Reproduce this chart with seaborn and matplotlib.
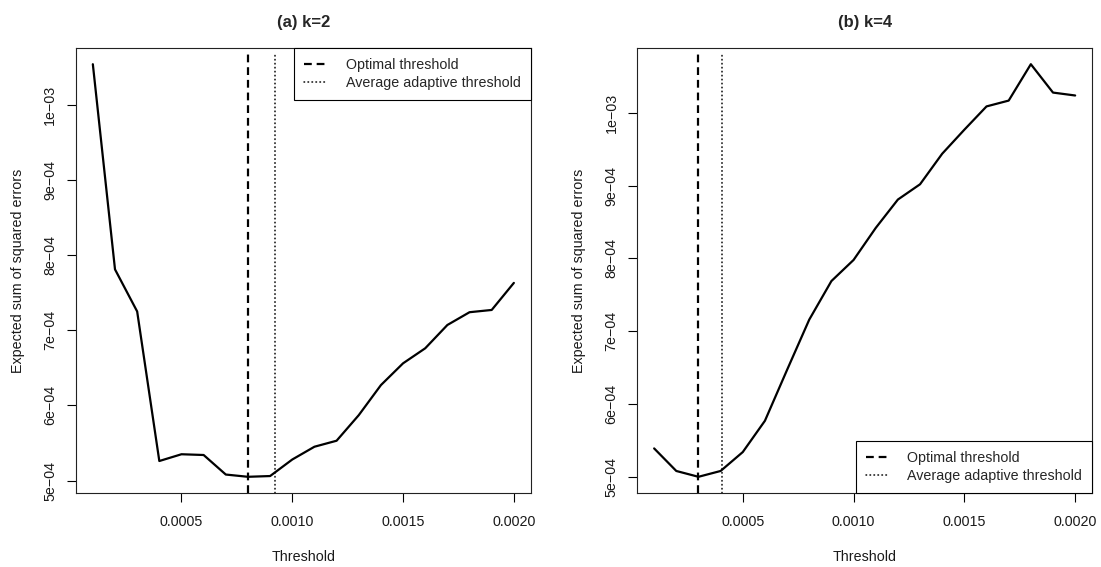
import numpy as np
import pandas as pd
import matplotlib
matplotlib.use("Agg")
import matplotlib.pyplot as plt
import seaborn as sns
from matplotlib.ticker import FuncFormatter, FixedLocator

# valores
limiares = [0.0001, 0.0002, 0.0003, 0.0004, 0.0005, 0.0006, 0.0007, 0.0008, 0.0009, 0.0010,
            0.0011, 0.0012, 0.0013, 0.0014, 0.0015, 0.0016, 0.0017, 0.0018, 0.0019, 0.0020]
sse_k2 = [1.054e-3, 7.81e-4, 7.25e-4, 5.26e-4, 5.35e-4, 5.34e-4, 5.08e-4, 5.05e-4, 5.06e-4, 5.28e-4,
          5.45e-4, 5.53e-4, 5.87e-4, 6.27e-4, 6.56e-4, 6.76e-4, 7.07e-4, 7.24e-4, 7.27e-4, 7.63e-4]
sse_k4 = [5.39e-4, 5.08e-4, 5.00e-4, 5.08e-4, 5.34e-4, 5.77e-4, 6.47e-4, 7.16e-4, 7.69e-4, 7.98e-4,
          8.42e-4, 8.81e-4, 9.02e-4, 9.44e-4, 9.77e-4, 1.009e-3, 1.017e-3, 1.067e-3, 1.028e-3, 1.024e-3]

titulos = ["(a) k=2", "(b) k=4"]
otimo = [0.0008, 0.0003]
adaptativo = [0.000923, 0.000404]
posicao_legenda = ["upper right", "lower right"]
ticks_x = [0.0005, 0.0010, 0.0015, 0.0020]
ticks_y = [5e-4, 6e-4, 7e-4, 8e-4, 9e-4, 1e-3]

sns.set_theme(style="ticks")
plt.rcParams['font.family'] = ['Liberation Sans', 'DejaVu Sans']
plt.rcParams['axes.unicode_minus'] = True

fig = plt.figure(figsize=(11.01, 5.67), dpi=100)
W, H = 1101, 567
caixas = [(76, 47.7, 530.7, 493.3), (637.3, 47.7, 1092, 493.3)]


def fmt_y(v, pos):
    return f"{v:.0e}".replace("-", "\u2212")


for i, (serie, titulo) in enumerate(zip([sse_k2, sse_k4], titulos)):
    x0, y0, x1, y1 = caixas[i]
    ax = fig.add_axes([x0 / W, (H - y1) / H, (x1 - x0) / W, (y1 - y0) / H])
    df = pd.DataFrame({"Threshold": limiares, "SSE": serie})
    sns.lineplot(data=df, x="Threshold", y="SSE", ax=ax, color="black", linewidth=1.6)

    # limites ao estilo R (4% de extensao)
    xr = max(limiares) - min(limiares)
    yr = max(serie) - min(serie)
    ax.set_xlim(min(limiares) - 0.04 * xr, max(limiares) + 0.04 * xr)
    ax.set_ylim(min(serie) - 0.04 * yr, max(serie) + 0.04 * yr)

    l1 = ax.axvline(otimo[i], ymax=0.985, color="black", linewidth=1.6,
                    dashes=(3.5, 2.2), label="Optimal threshold")
    l2 = ax.axvline(adaptativo[i], ymax=0.985, color="black", linewidth=1.1,
                    dashes=(0.4, 2.2), dash_capstyle="round",
                    label="Average adaptive threshold")

    ax.xaxis.set_major_locator(FixedLocator(ticks_x))
    ax.xaxis.set_major_formatter(FuncFormatter(lambda v, p: f"{v:.4f}"))
    ax.yaxis.set_major_locator(FixedLocator(ticks_y))
    ax.yaxis.set_major_formatter(FuncFormatter(fmt_y))
    ax.tick_params(axis="both", direction="out", length=6.5, width=0.8,
                   color="black", labelsize=10.3, labelcolor="#1a1a1a")
    ax.tick_params(axis="x", pad=9)
    ax.tick_params(axis="y", pad=7)
    for lab in ax.get_yticklabels():
        lab.set_rotation(90)
        lab.set_va("center")

    for s in ax.spines.values():
        s.set_visible(True)
        s.set_color("#222222")
        s.set_linewidth(0.8)

    ax.set_xlabel("Threshold", fontsize=10.3, labelpad=15, color="#1a1a1a")
    ax.set_ylabel("Expected sum of squared errors", fontsize=10.3, labelpad=13, color="#1a1a1a")
    ax.set_title(titulo, fontsize=12, fontweight="bold", pad=15)
    ax.grid(False)

    leg = ax.legend(handles=[l1, l2], loc=posicao_legenda[i], borderaxespad=0,
                    fontsize=10.3, fancybox=False, framealpha=1, edgecolor="black",
                    handlelength=1.6, handletextpad=1.3, borderpad=0.7, labelspacing=0.3)
    leg.get_frame().set_linewidth(0.8)

plt.savefig("out.png", dpi=100)
